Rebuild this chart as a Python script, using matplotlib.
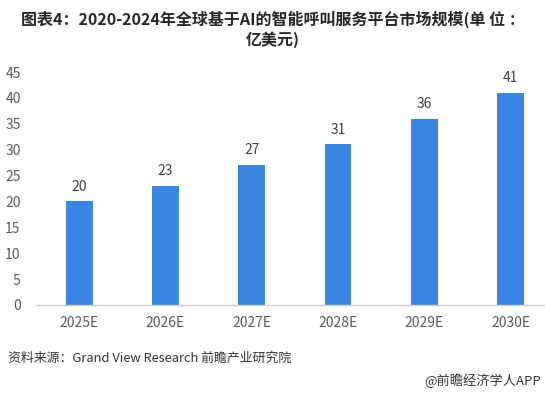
import matplotlib
matplotlib.use("Agg")
import matplotlib.pyplot as plt

plt.rcParams['font.family'] = ['Noto Sans CJK SC', 'DejaVu Sans']

categories = ["2025E", "2026E", "2027E", "2028E", "2029E", "2030E"]
values = [20, 23, 27, 31, 36, 41]
yticks = [0, 5, 10, 15, 20, 25, 30, 35, 40, 45]

title = "图表4：2020-2024年全球基于AI的智能呼叫服务平台市场规模(单 位 ：\n亿美元)"
source = "资料来源：Grand View Research 前瞻产业研究院"
credit = "@前瞻经济学人APP"

W, H = 545, 393
fig = plt.figure(figsize=(W / 100, H / 100), dpi=100)
ax = fig.add_axes([36 / W, 88 / H, 509 / W, 233 / H])

x = list(range(len(categories)))
bar_color = "#3a84e2"
ax.bar(x, values, width=0.31, color=bar_color, zorder=2)
for xi, v in zip(x, values):
    ax.text(xi, v + 1.5, str(v), ha="center", va="bottom", fontsize=10, color="#404040")

ax.set_xlim(-0.5, 5.4)
ax.set_ylim(0, 45)
ax.set_yticks(yticks)
ax.set_xticks(x)
ax.set_xticklabels(categories)
for s in ["top", "right", "left"]:
    ax.spines[s].set_visible(False)
ax.spines["bottom"].set_color("#d0d0d0")
ax.spines["bottom"].set_linewidth(1.0)
ax.tick_params(axis="both", length=0, labelsize=10, labelcolor="#595959")
ax.tick_params(axis="x", pad=8)
ax.tick_params(axis="y", pad=11)

fig.text(0.5, 1 - 29 / H, title, ha="center", va="center", fontsize=11.5,
         fontweight="bold", color="#262626", linespacing=1.25)
fig.text(8 / W, 1 - 358 / H, source, ha="left", va="center", fontsize=9.3, color="#333333")
fig.text(541 / W, 1 - 381 / H, credit, ha="right", va="center", fontsize=9.5, color="#333333")

fig.savefig("out.png", dpi=100)
